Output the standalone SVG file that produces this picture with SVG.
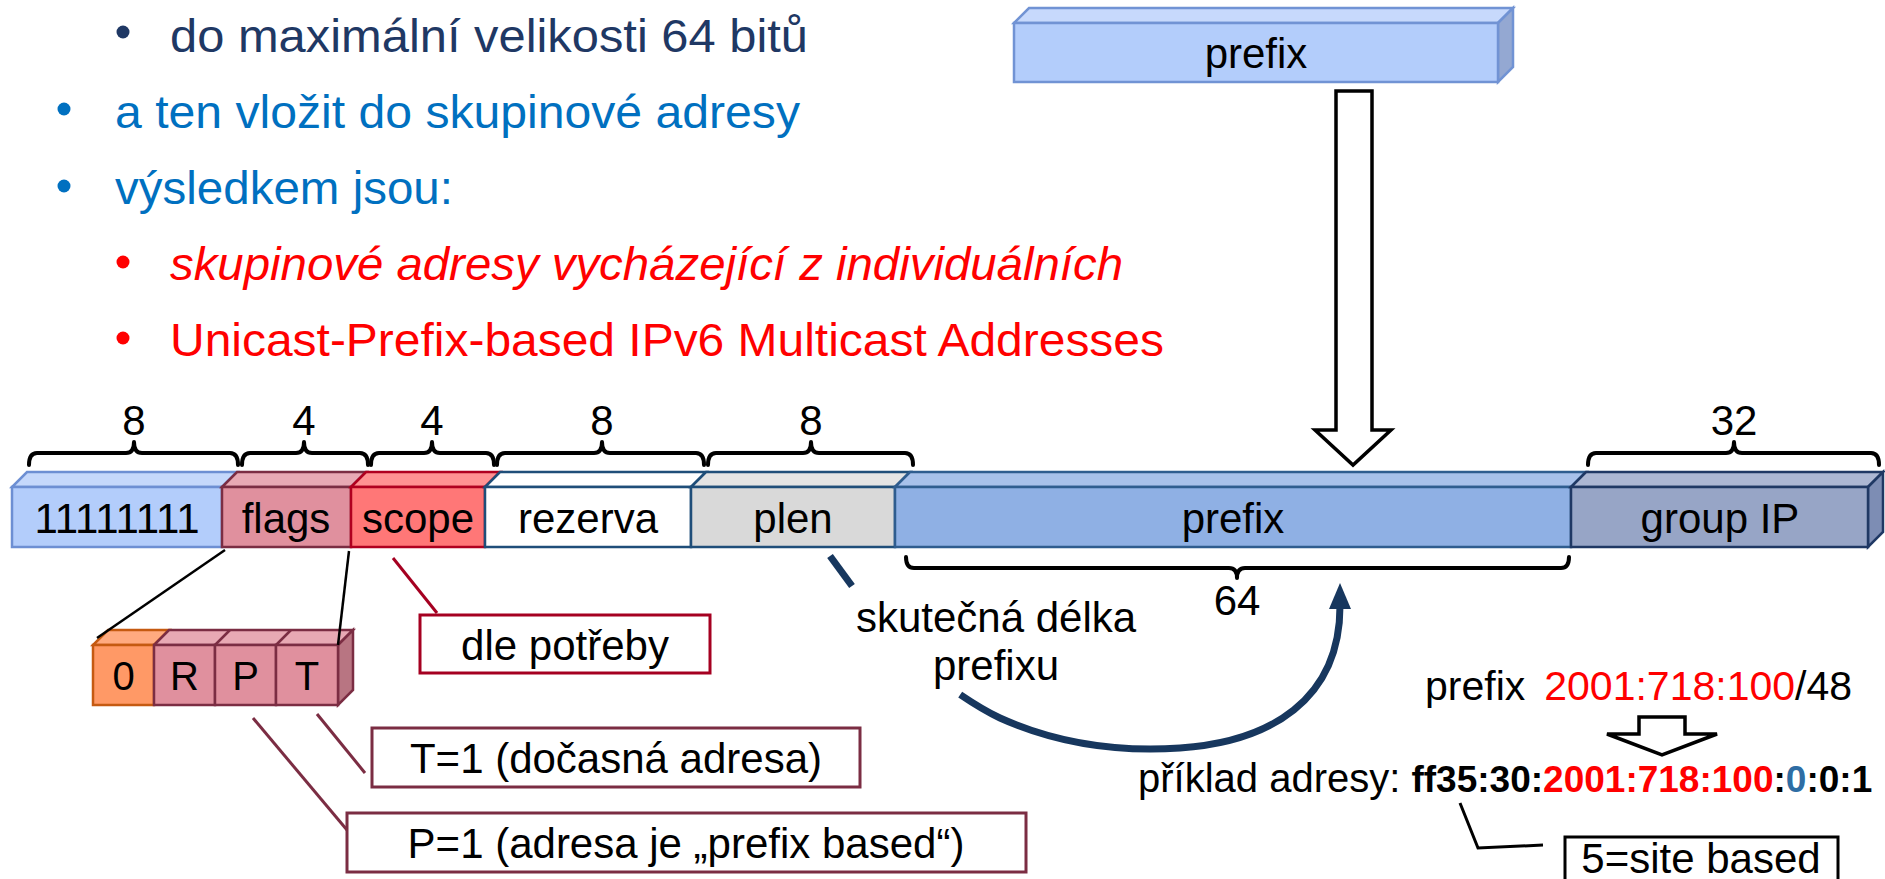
<svg xmlns="http://www.w3.org/2000/svg" width="1885" height="879" viewBox="0 0 1885 879">
<style>
text{font-family:"Liberation Sans",Arial,sans-serif;fill:#000}
.seg{font-size:42px;text-anchor:middle}
.num{font-size:42px;text-anchor:middle}
.bl{font-size:47px}
.brace{fill:none;stroke:#000;stroke-width:4;stroke-linejoin:round;stroke-linecap:round}
.lbl{font-size:42px;text-anchor:middle}
.box{stroke-width:3}
.red{fill:#ff0000}
.b{font-weight:bold;font-size:37px}
</style>
<rect width="1885" height="879" fill="#fff"/>

<g id="bullets">
  <circle cx="123" cy="32" r="6.5" fill="#1f3864"/>
  <text class="bl" x="170" y="52" style="fill:#1f3864" textLength="638" lengthAdjust="spacingAndGlyphs">do maximální velikosti 64 bitů</text>
  <circle cx="64" cy="109" r="6.5" fill="#0070c0"/>
  <text class="bl" x="115" y="128" style="fill:#0070c0" textLength="685" lengthAdjust="spacingAndGlyphs">a ten vložit do skupinové adresy</text>
  <circle cx="64" cy="186" r="6.5" fill="#0070c0"/>
  <text class="bl" x="115" y="204" style="fill:#0070c0" textLength="338" lengthAdjust="spacingAndGlyphs">výsledkem jsou:</text>
  <circle cx="123" cy="262" r="6.5" fill="#ff0000"/>
  <text class="bl" x="170" y="280" style="fill:#ff0000;font-style:italic" textLength="953" lengthAdjust="spacingAndGlyphs">skupinové adresy vycházející z individuálních</text>
  <circle cx="123" cy="338" r="6.5" fill="#ff0000"/>
  <text class="bl" x="170" y="356" style="fill:#ff0000" textLength="994" lengthAdjust="spacingAndGlyphs">Unicast-Prefix-based IPv6 Multicast Addresses</text>
</g>

<g id="prefix-source">
  <polygon points="1014,23 1498,23 1513,8 1029,8" fill="#c7d9fc" stroke="#7193d4" stroke-width="2.5"/>
  <polygon points="1498,23 1513,8 1513,67 1498,82" fill="#94a8d2" stroke="#7193d4" stroke-width="2.5"/>
  <rect x="1014" y="23" width="484" height="59" fill="#b3cdfb" stroke="#7193d4" stroke-width="2.5"/>
  <text class="seg" x="1256" y="68">prefix</text>
</g>

<g id="braces">
  <path class="brace" d="M29,465 Q29,453 37,453 L126,453 Q134,453 134,442 Q134,453 142,453 L230,453 Q238,453 238,465"/>
  <path class="brace" d="M242,465 Q242,453 250,453 L296,453 Q304,453 304,442 Q304,453 312,453 L360,453 Q368,453 368,465"/>
  <path class="brace" d="M371,465 Q371,453 379,453 L424,453 Q432,453 432,442 Q432,453 440,453 L486,453 Q494,453 494,465"/>
  <path class="brace" d="M497,465 Q497,453 505,453 L594,453 Q602,453 602,442 Q602,453 610,453 L696,453 Q704,453 704,465"/>
  <path class="brace" d="M708,465 Q708,453 716,453 L803,453 Q811,453 811,442 Q811,453 819,453 L905,453 Q913,453 913,465"/>
  <path class="brace" d="M1588,465 Q1588,453 1596,453 L1726,453 Q1734,453 1734,442 Q1734,453 1742,453 L1871,453 Q1879,453 1879,465"/>
  <path class="brace" d="M906,557 Q906,568 914,568 L1229,568 Q1237,568 1237,578 Q1237,568 1245,568 L1561,568 Q1569,568 1569,557"/>
  <text class="num" x="134" y="435">8</text>
  <text class="num" x="304" y="435">4</text>
  <text class="num" x="432" y="435">4</text>
  <text class="num" x="602" y="435">8</text>
  <text class="num" x="811" y="435">8</text>
  <text class="num" x="1734" y="435">32</text>
  <text class="num" x="1237" y="615">64</text>
</g>

<g id="seg-ones">
  <polygon points="12,487 222,487 237,472 27,472" fill="#c5d8fb" stroke="#6d8fd3" stroke-width="2.5"/>
  <rect x="12" y="487" width="210" height="60" fill="#b3cdfb" stroke="#6d8fd3" stroke-width="2.5"/>
  <text class="seg" x="117" y="533">11111111</text>
</g>
<g id="seg-flags">
  <polygon points="222,487 351,487 366,472 237,472" fill="#e8a9b4" stroke="#7b2d43" stroke-width="2.5"/>
  <rect x="222" y="487" width="129" height="60" fill="#e0909e" stroke="#7b2d43" stroke-width="2.5"/>
  <text class="seg" x="286" y="533">flags</text>
</g>
<g id="seg-scope">
  <polygon points="351,487 485,487 500,472 366,472" fill="#ff9292" stroke="#b0001f" stroke-width="2.5"/>
  <rect x="351" y="487" width="134" height="60" fill="#ff7777" stroke="#b0001f" stroke-width="2.5"/>
  <text class="seg" x="418" y="533">scope</text>
</g>
<g id="seg-rezerva">
  <polygon points="485,487 691,487 706,472 500,472" fill="#fff" stroke="#1f4e79" stroke-width="2.5"/>
  <rect x="485" y="487" width="206" height="60" fill="#fff" stroke="#1f4e79" stroke-width="2.5"/>
  <text class="seg" x="588" y="533">rezerva</text>
</g>
<g id="seg-plen">
  <polygon points="691,487 895,487 910,472 706,472" fill="#e4e4e4" stroke="#1f4e79" stroke-width="2.5"/>
  <rect x="691" y="487" width="204" height="60" fill="#d9d9d9" stroke="#1f4e79" stroke-width="2.5"/>
  <text class="seg" x="793" y="533">plen</text>
</g>
<g id="seg-prefix">
  <polygon points="895,487 1571,487 1586,472 910,472" fill="#a8c1ea" stroke="#2f5d8f" stroke-width="2.5"/>
  <rect x="895" y="487" width="676" height="60" fill="#8fb0e4" stroke="#2f5d8f" stroke-width="2.5"/>
  <text class="seg" x="1233" y="533">prefix</text>
</g>
<g id="seg-groupip">
  <polygon points="1571,487 1868,487 1883,472 1586,472" fill="#acb7d3" stroke="#1f3864" stroke-width="2.5"/>
  <polygon points="1868,487 1883,472 1883,532 1868,547" fill="#7d8db4" stroke="#1f3864" stroke-width="2.5"/>
  <rect x="1571" y="487" width="297" height="60" fill="#97a5c6" stroke="#1f3864" stroke-width="2.5"/>
  <text class="seg" x="1720" y="533">group IP</text>
</g>

<g id="flag-bits">
  <polygon points="93,645 154,645 169,630 108,630" fill="#ffaa80" stroke="#c55a11" stroke-width="2.5"/>
  <polygon points="154,645 338,645 353,630 169,630" fill="#e8a9b4" stroke="#7b2d43" stroke-width="2.5"/>
  <line x1="215" y1="645" x2="230" y2="630" stroke="#7b2d43" stroke-width="2.5"/>
  <line x1="276" y1="645" x2="291" y2="630" stroke="#7b2d43" stroke-width="2.5"/>
  <polygon points="338,645 353,630 353,690 338,705" fill="#b87582" stroke="#7b2d43" stroke-width="2.5"/>
  <rect x="93" y="645" width="61" height="60" fill="#ff9966" stroke="#c55a11" stroke-width="2.5"/>
  <rect x="154" y="645" width="61" height="60" fill="#e0909e" stroke="#7b2d43" stroke-width="2.5"/>
  <rect x="215" y="645" width="61" height="60" fill="#e0909e" stroke="#7b2d43" stroke-width="2.5"/>
  <rect x="276" y="645" width="62" height="60" fill="#e0909e" stroke="#7b2d43" stroke-width="2.5"/>
  <text class="seg" x="123.5" y="690" style="font-size:40px">0</text>
  <text class="seg" x="184.5" y="690" style="font-size:40px">R</text>
  <text class="seg" x="245.5" y="690" style="font-size:40px">P</text>
  <text class="seg" x="307" y="690" style="font-size:40px">T</text>
</g>

<g id="box-dle">
  <rect class="box" x="420" y="615" width="290" height="58" fill="#fff" stroke="#a50021"/>
  <text class="lbl" x="565" y="660">dle potřeby</text>
</g>
<g id="box-t">
  <rect class="box" x="372" y="728" width="488" height="59" fill="#fff" stroke="#7b2d43"/>
  <text class="lbl" x="616" y="773">T=1 (dočasná adresa)</text>
</g>
<g id="box-p">
  <rect class="box" x="347" y="813" width="679" height="59" fill="#fff" stroke="#7b2d43"/>
  <text class="lbl" x="686" y="858">P=1 (adresa je „prefix based“)</text>
</g>

<g id="label-plen">
  <text class="lbl" x="996" y="632">skutečná délka</text>
  <text class="lbl" x="996" y="680">prefixu</text>
</g>

<g id="example">
  <text x="1425" y="700" style="font-size:41px">prefix<tspan dx="19" class="red">2001:718:100</tspan>/48</text>
  <text x="1138" y="792" style="font-size:40px">příklad adresy: <tspan class="b">ff35:30:</tspan><tspan class="b red">2001:718:100</tspan><tspan class="b">:</tspan><tspan class="b" style="fill:#2e6da4">0</tspan><tspan class="b">:0:1</tspan></text>
</g>
<g id="box-site">
  <rect class="box" x="1565" y="837" width="273" height="50" fill="#fff" stroke="#000"/>
  <text class="lbl" x="1701" y="873">5=site based</text>
</g>

<g id="connectors" fill="none">
  <line x1="225" y1="550" x2="97" y2="638" stroke="#000" stroke-width="2.5"/>
  <line x1="349" y1="551" x2="338" y2="645" stroke="#000" stroke-width="2.5"/>
  <line x1="393" y1="558" x2="437" y2="613" stroke="#a50021" stroke-width="3"/>
  <line x1="317" y1="714" x2="365" y2="773" stroke="#7b2d43" stroke-width="3"/>
  <line x1="253" y1="718" x2="347" y2="830" stroke="#7b2d43" stroke-width="3"/>
  <polygon points="1336,91 1372,91 1372,430 1391,430 1353,465 1315,430 1336,430" fill="#fff" stroke="#000" stroke-width="3.5"/>
  <polygon points="1639,717 1685,717 1685,734 1717,734 1662,755 1607,734 1639,734" fill="#fff" stroke="#000" stroke-width="3.5"/>
  <line x1="830" y1="556" x2="852" y2="586" stroke="#17375e" stroke-width="7"/>
  <path d="M960.2,694.6 C972.8,703.1 986,711.4 1000,718 C1060,745 1120,752 1180,748 C1270,742 1340,700 1340,606" stroke="#17375e" stroke-width="7"/>
  <polygon points="1340,583 1329,609 1351,609" fill="#17375e"/>
  <polyline points="1460,803 1478,848 1543,845" stroke="#000" stroke-width="3"/>
</g>
</svg>
